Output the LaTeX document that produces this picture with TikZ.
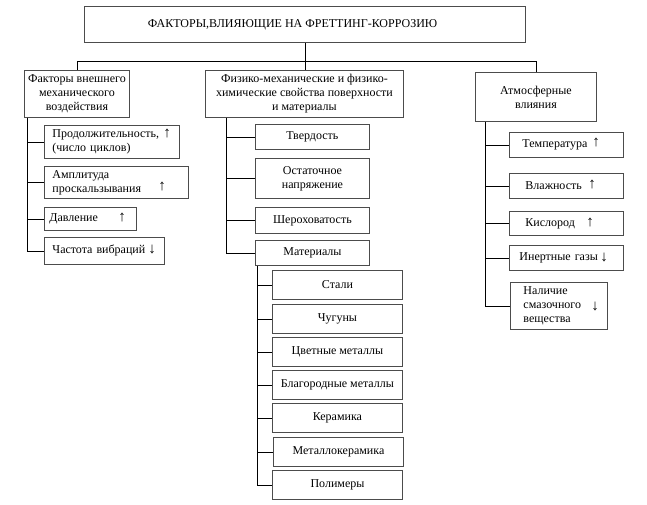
\documentclass[tikz,border=0pt]{standalone}
\usepackage{fontspec}
\setmainfont{Liberation Serif}
\begin{document}
\begin{tikzpicture}[x=1pt,y=-1pt,
  font=\fontsize{12}{14}\selectfont,
  bx/.style={draw=black!70, line width=0.9pt, rectangle, inner ysep=0pt, inner xsep=2pt, anchor=north west},
  lb/.style={bx, align=left},
  cb/.style={bx, align=center},
  arr/.style={inner sep=0pt, font=\fontsize{15}{15}\selectfont},
  conn/.style={draw=black, line width=0.8pt}]
\useasboundingbox (0,0) rectangle (647,505);

% title
\node[cb, line width=1.2pt, minimum width=441pt, minimum height=36pt] (title) at (84,6) {ФАКТОРЫ,ВЛИЯЮЩИЕ НА ФРЕТТИНГ-КОРРОЗИЮ\hspace*{25pt}};

% level 1
\node[cb, minimum width=105pt, minimum height=47pt] (l1) at (24,70) {Факторы внешнего\\механического\\воздействия};
\node[cb, minimum width=198pt, minimum height=47pt] (m1) at (205,70) {Физико-механические и физико-\\химические свойства поверхности\\и материалы};
\node[cb, minimum width=121pt, minimum height=49pt] (r1) at (475,72) {Атмосферные\\влияния};

% left children
\node[lb, text width=119pt, inner xsep=8pt, minimum height=33pt] (l2) at (44,125) {Продолжительность,\\(число циклов)};
\node[lb, text width=128pt, inner xsep=8pt, minimum height=32pt] (l3) at (44,166) {Амплитуда\\проскальзывания};
\node[lb, text width=82pt, inner xsep=5pt, minimum height=23pt] (l4) at (44,207) {Давление};
\node[lb, text width=104pt, inner xsep=8pt, minimum height=27pt] (l5) at (44,237) {Частота вибраций};
\node[arr] (a1) at (167,134) {↑};
\node[arr] (a2) at (162,187) {↑};
\node[arr] (a3) at (122,218) {↑};
\node[arr] (a4) at (152,250) {↓};

% middle children
\node[cb, minimum width=114pt, minimum height=25pt] (m2) at (255,124) {Твердость};
\node[cb, minimum width=114pt, minimum height=40pt] (m3) at (255,158) {Остаточное\\напряжение};
\node[cb, minimum width=114pt, minimum height=26pt] (m4) at (255,207) {Шероховатость};
\node[cb, minimum width=114pt, minimum height=25pt] (m5) at (255,240) {Материалы};

% materials
\node[cb, minimum width=130pt, minimum height=29pt] (s1) at (272,270) {Стали};
\node[cb, minimum width=130pt, minimum height=29pt] (s2) at (272,304) {Чугуны};
\node[cb, minimum width=130pt, minimum height=29pt] (s3) at (272,337) {Цветные металлы};
\node[cb, minimum width=130pt, minimum height=29pt] (s4) at (272,370) {Благородные металлы};
\node[cb, minimum width=130pt, minimum height=29pt] (s5) at (272,403) {Керамика};
\node[cb, minimum width=130pt, minimum height=29pt] (s6) at (273,437) {Металлокерамика};
\node[cb, minimum width=130pt, minimum height=29pt] (s7) at (272,470) {Полимеры};

% right children
\node[lb, text width=88pt, inner xsep=13pt, minimum height=25pt] (r2) at (509,132) {Температура};
\node[lb, text width=82pt, inner xsep=16pt, minimum height=25pt] (r3) at (509,173) {Влажность};
\node[lb, text width=82pt, inner xsep=16pt, minimum height=24pt] (r4) at (509,211) {Кислород};
\node[lb, text width=94pt, inner xsep=10pt, minimum height=25pt] (r5) at (509,245) {Инертные газы};
\node[lb, text width=71pt, inner xsep=13pt, minimum height=47pt] (r6) at (510,282) {Наличие\\смазочного\\вещества};
\node[arr] (a5) at (596,143) {↑};
\node[arr] (a6) at (592,185) {↑};
\node[arr] (a7) at (590,223) {↑};
\node[arr] (a8) at (604,258) {↓};
\node[arr] (a9) at (595,307) {↓};

% top connectors
\coordinate (bus) at (304,61);
\draw[conn] (title.south) -- (title.south |- m1.north);
\draw[conn] (l1.north) -- (l1.north |- bus) -- (r1.north |- bus) -- (r1.north);

% left spine
\coordinate (ls) at ([xshift=3pt]l1.south west);
\draw[conn] (ls) |- (l5.west);
\draw[conn] (ls |- l2.west) -- (l2.west);
\draw[conn] (ls |- l3.west) -- (l3.west);
\draw[conn] (ls |- l4.west) -- (l4.west);

% middle spine
\coordinate (ms) at ([xshift=21pt]m1.south west);
\draw[conn] (ms) |- (m5.west);
\draw[conn] (ms |- m2.west) -- (m2.west);
\draw[conn] (ms |- m3.west) -- (m3.west);
\draw[conn] (ms |- m4.west) -- (m4.west);

% materials spine
\coordinate (ss) at ([xshift=2pt]m5.south west);
\draw[conn] (ss) |- (s7.west);
\draw[conn] (ss |- s1.west) -- (s1.west);
\draw[conn] (ss |- s2.west) -- (s2.west);
\draw[conn] (ss |- s3.west) -- (s3.west);
\draw[conn] (ss |- s4.west) -- (s4.west);
\draw[conn] (ss |- s5.west) -- (s5.west);
\draw[conn] (ss |- s6.west) -- (s6.west);

% right spine
\coordinate (rs) at ([xshift=10pt]r1.south west);
\draw[conn] (rs) |- (r6.west);
\draw[conn] (rs |- r2.west) -- (r2.west);
\draw[conn] (rs |- r3.west) -- (r3.west);
\draw[conn] (rs |- r4.west) -- (r4.west);
\draw[conn] (rs |- r5.west) -- (r5.west);
\end{tikzpicture}
\end{document}
